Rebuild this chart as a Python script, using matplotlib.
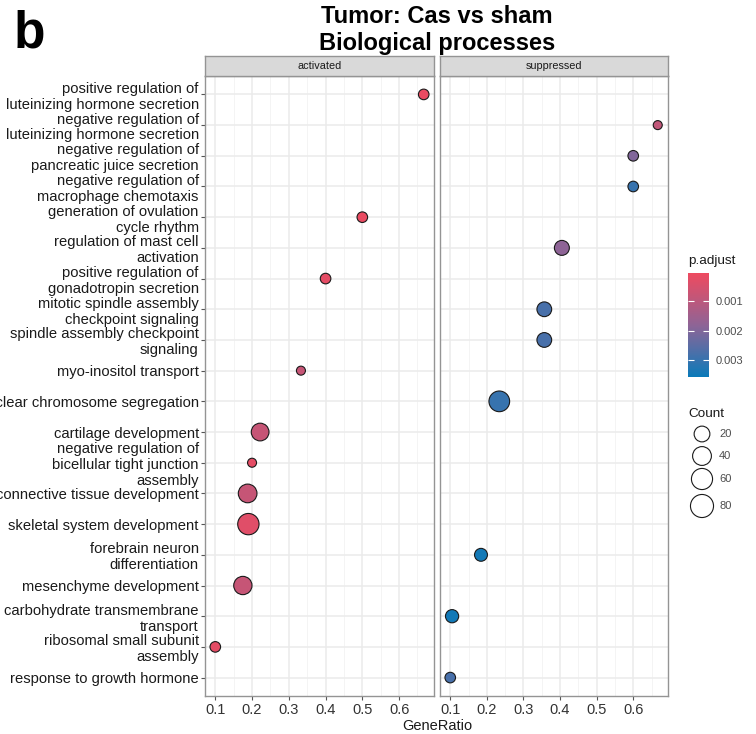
import matplotlib.pyplot as plt
import numpy as np
from matplotlib.colors import LinearSegmentedColormap, Normalize
from matplotlib.colorbar import ColorbarBase
from matplotlib.ticker import MultipleLocator

plt.rcParams['font.family'] = ['Liberation Sans', 'DejaVu Sans']

# GO terms, top to bottom
terms = [
    'positive regulation of\nluteinizing hormone secretion',
    'negative regulation of\nluteinizing hormone secretion',
    'negative regulation of\npancreatic juice secretion',
    'negative regulation of\nmacrophage chemotaxis',
    'generation of ovulation\ncycle rhythm',
    'regulation of mast cell\nactivation',
    'positive regulation of\ngonadotropin secretion',
    'mitotic spindle assembly\ncheckpoint signaling',
    'spindle assembly checkpoint\nsignaling',
    'myo-inositol transport',
    'nuclear chromosome segregation',
    'cartilage development',
    'negative regulation of\nbicellular tight junction\nassembly',
    'connective tissue development',
    'skeletal system development',
    'forebrain neuron\ndifferentiation',
    'mesenchyme development',
    'carbohydrate transmembrane\ntransport',
    'ribosomal small subunit\nassembly',
    'response to growth hormone',
]

# activated facet
act_terms = [terms[0], terms[4], terms[6], terms[9], terms[11],
             terms[12], terms[13], terms[14], terms[16], terms[18]]
act_ratio = [0.667, 0.5, 0.4, 0.333, 0.222, 0.2, 0.188, 0.19, 0.175, 0.1]
act_count = [3, 3, 3, 2, 32, 2, 39, 62, 36, 3]
act_padj = [0.0001, 0.0001, 0.0002, 0.0008, 0.0008,
            0.0002, 0.0008, 0.0003, 0.0008, 0.0002]

# suppressed facet
sup_terms = [terms[1], terms[2], terms[3], terms[5], terms[7],
             terms[8], terms[10], terms[15], terms[17], terms[19]]
sup_ratio = [0.667, 0.6, 0.6, 0.405, 0.357, 0.357, 0.234, 0.184, 0.105, 0.1]
sup_count = [2, 3, 3, 16, 15, 15, 56, 8, 9, 3]
sup_padj = [0.0009, 0.002, 0.003, 0.0018, 0.0028,
            0.0028, 0.003, 0.0035, 0.0035, 0.0028]

count_breaks = [20, 40, 60, 80]
padj_breaks = [0.001, 0.002, 0.003]

W, H = 756, 734
cmap = LinearSegmentedColormap.from_list(
    'padj', ['#EE4A60', '#C0577A', '#8E6496', '#4F6FA8', '#0A7AB9'])
norm = Normalize(vmin=0.00002, vmax=0.0036)


def box(x0, y0, x1, y1):
    # pixel box -> figure fraction
    return [x0 / W, 1 - y1 / H, (x1 - x0) / W, (y1 - y0) / H]


def marker_area(count):
    d = 9 + 14.5 * np.sqrt((np.asarray(count, dtype=float) - 2) / 83)
    return (d * 0.72) ** 2


def draw_panel(ax, names, ratio, count, padj, label, show_y):
    y = [terms.index(t) for t in names]
    ax.scatter(ratio, y, s=marker_area(count), c=padj, cmap=cmap, norm=norm,
               edgecolors='#1a1a1a', linewidths=0.8, zorder=3)
    ax.set_xlim(0.072, 0.695)
    ax.set_ylim(len(terms) - 0.4, -0.6)
    ax.set_yticks(range(len(terms)))
    ax.xaxis.set_major_locator(MultipleLocator(0.1))
    ax.xaxis.set_minor_locator(MultipleLocator(0.05))
    ax.grid(which='major', color='#EBEBEB', lw=1.1)
    ax.grid(which='minor', axis='x', color='#F2F2F2', lw=0.6)
    ax.set_axisbelow(True)
    for sp in ax.spines.values():
        sp.set_color('#949494')
        sp.set_linewidth(1.0)
    ax.tick_params(which='minor', length=0)
    ax.tick_params(axis='x', length=3, width=0.8, color='#555555',
                   labelsize=10.5, labelcolor='#333333', pad=2)
    if show_y:
        ax.set_yticklabels(terms)
        ax.tick_params(axis='y', length=3, width=0.8, color='#555555',
                       labelsize=10.6, labelcolor='#1a1a1a', pad=1.5)
        for lbl in ax.get_yticklabels():
            lbl.set_linespacing(1.17)
    else:
        ax.tick_params(axis='y', left=False, labelleft=False)

    pos = ax.get_position()
    sax = fig.add_axes([pos.x0, pos.y1, pos.width, 20 / H])
    sax.set_facecolor('#D9D9D9')
    sax.set_xticks([])
    sax.set_yticks([])
    for sp in sax.spines.values():
        sp.set_color('#949494')
        sp.set_linewidth(1.0)
    sax.text(0.5, 0.5, label, ha='center', va='center', fontsize=7.8,
             color='#1a1a1a', transform=sax.transAxes)


fig = plt.figure(figsize=(7.56, 7.34), dpi=100)

ax1 = fig.add_axes(box(205, 76, 434, 696))
ax2 = fig.add_axes(box(440, 76, 668, 696))
draw_panel(ax1, act_terms, act_ratio, act_count, act_padj, 'activated', True)
draw_panel(ax2, sup_terms, sup_ratio, sup_count, sup_padj, 'suppressed', False)

# colour bar for p.adjust
cax = fig.add_axes(box(688, 273, 709, 377))
cb = ColorbarBase(cax, cmap=cmap, norm=norm, orientation='vertical')
cb.outline.set_visible(False)
cax.invert_yaxis()
cb.set_ticks(padj_breaks)
cb.set_ticklabels([f'{v:.3f}' for v in padj_breaks])
cax.tick_params(axis='y', direction='in', length=4, width=0.8, color='#ffffff',
                left=True, right=True, labelsize=8, labelcolor='#4D4D4D',
                pad=5)

# overlay in pixel coords for text and the size legend
lax = fig.add_axes([0, 0, 1, 1])
lax.set_xlim(0, W)
lax.set_ylim(H, 0)
lax.axis('off')

lax.text(14, 48, 'b', fontsize=37, fontweight='bold', va='baseline')
lax.text(437, 23, 'Tumor: Cas vs sham', fontsize=17, fontweight='bold',
         ha='center', va='baseline')
lax.text(437, 50, 'Biological processes', fontsize=17, fontweight='bold',
         ha='center', va='baseline')
lax.text(437, 730, 'GeneRatio', fontsize=10.5, color='#1a1a1a',
         ha='center', va='baseline')

lax.text(688, 264, 'p.adjust', fontsize=9.7, color='#1a1a1a', va='baseline')
lax.text(688, 417, 'Count', fontsize=9.7, color='#1a1a1a', va='baseline')
key_y = [434, 456, 479, 506]
lax.scatter([702] * len(count_breaks), key_y, s=marker_area(count_breaks),
            facecolors='white', edgecolors='#1a1a1a', linewidths=0.8)
for yy, c in zip(key_y, count_breaks):
    lax.text(719, yy, str(c), fontsize=8, color='#4D4D4D', va='center')

fig.savefig('out.png', dpi=100)
